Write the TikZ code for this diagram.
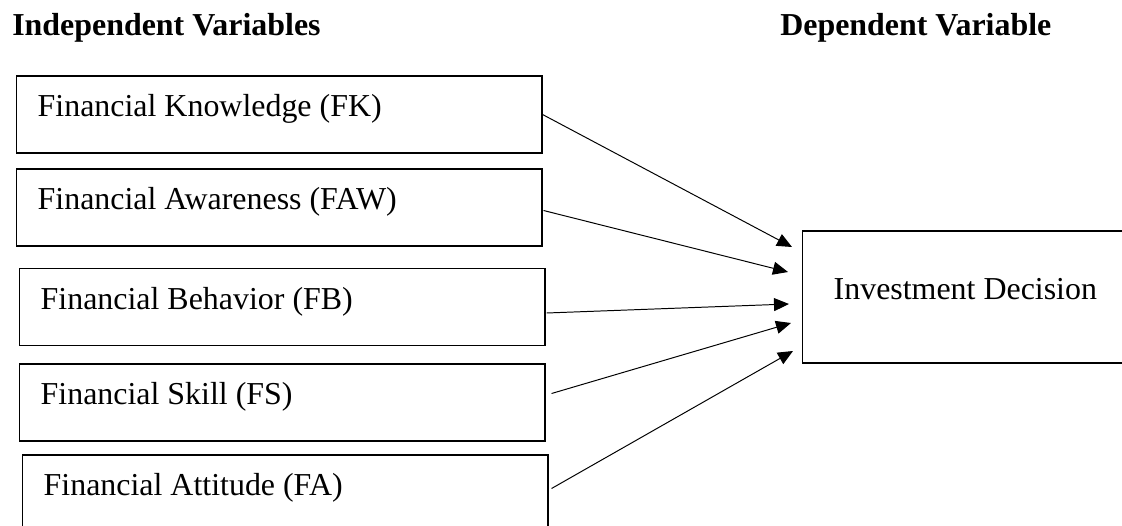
\documentclass[tikz,border=0pt]{standalone}
\usepackage{fontspec}
\setmainfont{Liberation Serif}
\usetikzlibrary{arrows.meta, calc}
\tikzstyle{head} = [inner sep=0pt, anchor=base west, font=\fontsize{22.7}{27}\selectfont\bfseries]
\tikzstyle{var} = [rectangle, anchor=west, draw=black, line width=1pt, text width=12.075cm, align=left, inner xsep=0.525cm, inner ysep=0pt, minimum height=1.925cm, text height=0.5cm, text depth=0.4cm, font=\fontsize{22.7}{27}\selectfont, execute at begin node={\spaceskip=0pt\xspaceskip=0pt}]
\tikzstyle{outcome} = [rectangle, anchor=west, draw=black, line width=1pt, inner xsep=0.775cm, inner ysep=0pt, minimum height=3.3cm, text height=0.5cm, text depth=0.4cm, font=\fontsize{22.7}{27}\selectfont]
\tikzstyle{arrow} = [line width=0.7pt, -{Triangle[length=3.75mm, width=3.25mm]}]

\begin{document}
\begin{tikzpicture}[x=0.025cm, y=-0.025cm]
\clip (0,0) rectangle (1122,525);

\node at (12,36) (indep) [head] {Independent Variables};
\node at (780,36) (dep) [head] {Dependent Variable};

\node at (16,114.5) (fk) [var] {Financial Knowledge (FK)};
\node at (16,207.5) (faw) [var] {Financial Awareness (FAW)};
\node at (19,307) (fb) [var] {Financial Behavior (FB)};
\node at (19,402.5) (fs) [var] {Financial Skill (FS)};
\node at (22,493.5) (fa) [var] {Financial Attitude (FA)};

\node at (802,297) (inv) [outcome] {Investment Decision};

\draw [arrow] (fk.east) -- ($(inv.west)+(-10,-50)$);
\draw [arrow] ($(faw.east)+(1,3)$) -- ($(inv.west)+(-14,-25)$);
\draw [arrow] ($(fb.east)+(1,6)$) -- ($(inv.west)+(-13,7)$);
\draw [arrow] ($(fs.east)+(6,-9)$) -- ($(inv.west)+(-11,26)$);
\draw [arrow] ($(fa.east)+(3,-5)$) -- ($(inv.west)+(-9,54)$);

\end{tikzpicture}
\end{document}
